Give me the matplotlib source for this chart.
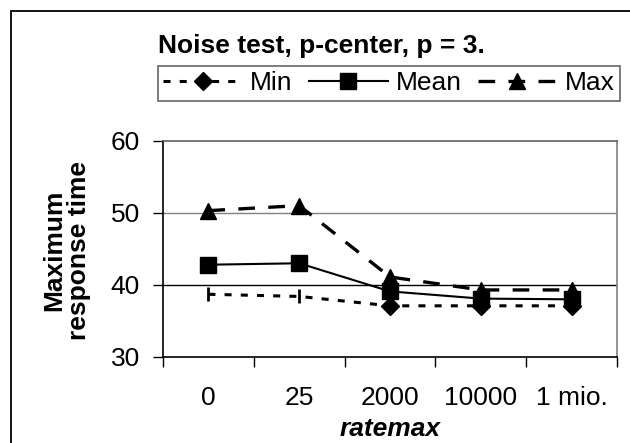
import matplotlib
matplotlib.use("Agg")
import matplotlib.pyplot as plt
from matplotlib.patches import Rectangle
import numpy as np

plt.rcParams['font.family'] = ['Liberation Sans', 'DejaVu Sans']

# data
categories = ["0", "25", "2000", "10000", "1 mio."]
min_vals = [38.7, 38.4, 37.1, 37.1, 37.1]
mean_vals = [42.8, 43.0, 39.1, 38.1, 38.0]
max_vals = [50.3, 51.0, 41.1, 39.3, 39.3]
yticks = [30, 40, 50, 60]

FS = 19
W, H = 630, 443
fig = plt.figure(figsize=(W / 100, H / 100), dpi=100)
ax = fig.add_axes([163 / W, 1 - 357 / H, (617 - 163) / W, (357 - 140.7) / H])

x = np.arange(len(categories))

ax.plot(x, min_vals, color='black', lw=2.2, linestyle=(0, (2.3, 3)),
        marker='D', ms=9, markevery=[2, 3, 4], label='Min')
ax.plot(x[:2], min_vals[:2], linestyle='none', color='black',
        marker='|', ms=10, mew=2)
ax.plot(x, mean_vals, color='black', lw=1.5, marker='s', ms=11.5, label='Mean')
ax.plot(x, max_vals, color='black', lw=2.4, linestyle=(0, (5, 4)),
        marker='^', ms=11.5, label='Max')

ax.set_xlim(-0.5, len(categories) - 0.5)
ax.set_ylim(30, 60)
ax.set_yticks(yticks)
ax.set_xticks(x)
ax.set_xticklabels(categories, fontsize=FS)
ax.set_xticks(np.arange(len(categories) + 1) - 0.5, minor=True)
ax.tick_params(axis='x', which='major', length=0, pad=21)
ax.tick_params(axis='x', which='minor', length=7, width=1)
ax.tick_params(axis='y', labelsize=FS, length=7, width=1, pad=9.5)

ax.axhline(40, color='black', lw=1, zorder=0)
ax.axhline(50, color='#808080', lw=1, zorder=0)

ax.spines['left'].set_color('black')
ax.spines['bottom'].set_color('black')
ax.spines['top'].set_color('#606060')
ax.spines['right'].set_color('#808080')
for s in ax.spines.values():
    s.set_linewidth(1.2)

ax.set_xlabel('ratemax', fontsize=FS, fontweight='bold', style='italic', labelpad=5)
fig.text(67 / W, 1 - 250 / H, 'Maximum\nresponse time', rotation=90,
         fontsize=FS, fontweight='bold', ha='center', va='center',
         multialignment='center', linespacing=1.05)

fig.text(158 / W, 1 - 53 / H, 'Noise test, p-center, p = 3.',
         fontsize=FS, fontweight='bold', ha='left', va='baseline')

leg = fig.legend(loc='upper left', bbox_to_anchor=(158 / W, 1 - 66 / H),
                 ncol=3, fontsize=FS, frameon=True, fancybox=False,
                 handlelength=3.0, handletextpad=0.3, columnspacing=0.6,
                 borderpad=0.2, borderaxespad=0)
leg.get_frame().set_edgecolor('#404040')
leg.get_frame().set_linewidth(1.2)

fig.patches.append(Rectangle((11 / W, -0.1), 1.0, 1 - 11 / H + 0.1,
                             transform=fig.transFigure, fill=False,
                             edgecolor='black', lw=1.3))

fig.savefig('out.png', dpi=100)
